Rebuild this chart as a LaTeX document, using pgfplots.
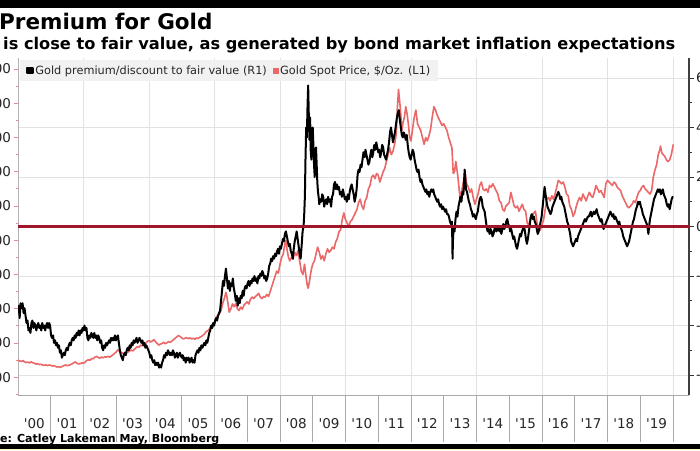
\documentclass[border=0pt]{standalone}
\usepackage{pgfplots}
\usepackage{pgfplotstable}
\pgfplotsset{compat=1.18}
\usepackage{fontspec}
\setmainfont{DejaVu Sans}
\definecolor{goldred}{RGB}{236,104,104}
\definecolor{zerored}{RGB}{158,22,40}
\definecolor{gridgray}{RGB}{226,226,226}
\definecolor{legbg}{RGB}{241,241,241}
\definecolor{tickgray}{RGB}{170,170,170}

\pgfplotstableread{
x y
2000.00 -35
2000.03 -32
2000.05 -37
2000.08 -31
2000.11 -33
2000.14 -31
2000.17 -35
2000.20 -33
2000.23 -36
2000.26 -39
2000.29 -38
2000.32 -42
2000.35 -41
2000.38 -43
2000.41 -39
2000.44 -38
2000.47 -41
2000.50 -39
2000.53 -40
2000.56 -42
2000.59 -40
2000.62 -39
2000.65 -41
2000.68 -40
2000.71 -42
2000.74 -39
2000.77 -41
2000.80 -40
2000.83 -42
2000.86 -40
2000.89 -39
2000.92 -41
2000.95 -39
2000.98 -40
2001.01 -44
2001.04 -45
2001.07 -44
2001.10 -47
2001.13 -46
2001.16 -48
2001.19 -47
2001.22 -49
2001.25 -48
2001.28 -51
2001.31 -50
2001.34 -53
2001.37 -52
2001.40 -51
2001.43 -52
2001.46 -50
2001.49 -49
2001.52 -50
2001.55 -48
2001.58 -47
2001.61 -48
2001.64 -46
2001.67 -45
2001.70 -46
2001.73 -44
2001.76 -45
2001.79 -43
2001.82 -44
2001.85 -42
2001.88 -44
2001.91 -42
2001.94 -43
2001.97 -41
2002.00 -42
2002.03 -40
2002.06 -42
2002.09 -41
2002.12 -45
2002.15 -46
2002.18 -44
2002.21 -45
2002.24 -43
2002.27 -44
2002.30 -45
2002.33 -43
2002.36 -45
2002.39 -44
2002.42 -46
2002.45 -44
2002.48 -45
2002.51 -47
2002.54 -46
2002.57 -49
2002.60 -50
2002.63 -48
2002.66 -49
2002.69 -47
2002.72 -48
2002.75 -47
2002.78 -46
2002.81 -47
2002.84 -45
2002.87 -46
2002.90 -45
2002.93 -46
2002.96 -44
2002.99 -46
2003.02 -45
2003.05 -44
2003.08 -47
2003.11 -50
2003.14 -52
2003.17 -53
2003.20 -54
2003.23 -52
2003.26 -51
2003.29 -52
2003.32 -50
2003.35 -49
2003.38 -50
2003.41 -48
2003.44 -49
2003.47 -47
2003.50 -48
2003.53 -46
2003.56 -47
2003.59 -46
2003.62 -45
2003.65 -47
2003.68 -46
2003.71 -45
2003.74 -46
2003.77 -47
2003.80 -46
2003.83 -48
2003.86 -47
2003.89 -49
2003.92 -48
2003.95 -49
2003.98 -50
2004.01 -51
2004.04 -53
2004.07 -52
2004.10 -54
2004.13 -55
2004.16 -54
2004.19 -56
2004.22 -55
2004.25 -56
2004.28 -55
2004.31 -57
2004.34 -56
2004.37 -57
2004.40 -55
2004.43 -54
2004.46 -52
2004.49 -53
2004.52 -51
2004.55 -52
2004.58 -50
2004.61 -51
2004.64 -52
2004.67 -51
2004.70 -52
2004.73 -50
2004.76 -51
2004.79 -53
2004.82 -52
2004.85 -51
2004.88 -53
2004.91 -52
2004.94 -51
2004.97 -52
2005.00 -53
2005.03 -52
2005.06 -54
2005.09 -53
2005.12 -55
2005.15 -53
2005.18 -54
2005.21 -53
2005.24 -55
2005.27 -54
2005.30 -53
2005.33 -55
2005.36 -54
2005.39 -55
2005.42 -52
2005.45 -51
2005.48 -50
2005.51 -51
2005.54 -49
2005.57 -50
2005.60 -48
2005.63 -49
2005.66 -48
2005.69 -47
2005.72 -48
2005.75 -46
2005.78 -47
2005.81 -45
2005.84 -43
2005.87 -42
2005.90 -40
2005.93 -41
2005.96 -39
2005.99 -40
2006.02 -38
2006.05 -37
2006.08 -38
2006.11 -36
2006.14 -35
2006.17 -34
2006.20 -30
2006.23 -26
2006.26 -22
2006.29 -24
2006.32 -20
2006.35 -17
2006.38 -21
2006.41 -25
2006.44 -22
2006.47 -26
2006.50 -23
2006.53 -24
2006.56 -21
2006.59 -25
2006.62 -27
2006.65 -30
2006.68 -28
2006.71 -32
2006.74 -29
2006.77 -31
2006.80 -28
2006.83 -29
2006.86 -26
2006.89 -28
2006.92 -25
2006.95 -24
2006.98 -25
2007.01 -23
2007.04 -22
2007.07 -24
2007.10 -22
2007.13 -23
2007.16 -21
2007.19 -22
2007.22 -20
2007.25 -22
2007.28 -21
2007.31 -23
2007.34 -20
2007.37 -21
2007.40 -19
2007.43 -20
2007.46 -18
2007.49 -19
2007.52 -21
2007.55 -20
2007.58 -22
2007.61 -21
2007.64 -19
2007.67 -16
2007.70 -15
2007.73 -13
2007.76 -14
2007.79 -12
2007.82 -13
2007.85 -11
2007.88 -12
2007.91 -10
2007.94 -9
2007.97 -11
2008.00 -8
2008.03 -9
2008.06 -7
2008.09 -5
2008.12 -6
2008.15 -3
2008.18 -2
2008.21 -4
2008.24 -6
2008.27 -8
2008.30 -7
2008.33 -10
2008.36 -11
2008.39 -13
2008.42 -9
2008.45 -6
2008.48 -4
2008.51 -2
2008.54 -5
2008.57 -8
2008.60 -11
2008.63 -13
2008.66 -8
2008.69 -2
2008.72 0
2008.74 5
2008.76 12
2008.78 28
2008.80 40
2008.82 36
2008.84 48
2008.86 57
2008.88 45
2008.90 35
2008.92 44
2008.94 30
2008.96 27
2008.98 35
2009.00 40
2009.02 33
2009.04 25
2009.06 20
2009.08 28
2009.10 32
2009.12 25
2009.14 18
2009.16 14
2009.18 12
2009.20 9
2009.23 11
2009.26 10
2009.29 13
2009.32 12
2009.35 8
2009.38 10
2009.41 11
2009.44 9
2009.47 12
2009.50 10
2009.53 11
2009.56 8
2009.59 12
2009.62 13
2009.65 17
2009.68 18
2009.71 15
2009.74 17
2009.77 15
2009.80 16
2009.83 13
2009.86 14
2009.89 12
2009.92 15
2009.95 13
2009.98 11
2010.01 12
2010.04 10
2010.07 13
2010.10 11
2010.13 14
2010.16 16
2010.19 17
2010.22 15
2010.25 13
2010.28 10
2010.31 12
2010.34 15
2010.37 21
2010.40 23
2010.43 22
2010.46 25
2010.49 24
2010.52 27
2010.55 30
2010.58 28
2010.61 31
2010.64 29
2010.67 27
2010.70 25
2010.73 26
2010.76 29
2010.79 31
2010.82 28
2010.85 30
2010.88 33
2010.91 31
2010.94 34
2010.97 32
2011.00 30
2011.03 31
2011.06 28
2011.09 30
2011.12 33
2011.15 32
2011.18 29
2011.21 28
2011.24 27
2011.27 29
2011.30 31
2011.33 34
2011.36 38
2011.39 40
2011.42 37
2011.45 34
2011.48 36
2011.51 38
2011.54 41
2011.57 44
2011.60 46
2011.63 47
2011.66 43
2011.69 40
2011.72 37
2011.75 36
2011.78 38
2011.81 37
2011.84 35
2011.87 37
2011.90 33
2011.93 30
2011.96 28
2011.99 27
2012.02 29
2012.05 31
2012.08 30
2012.11 27
2012.14 25
2012.17 23
2012.20 22
2012.23 23
2012.26 20
2012.29 18
2012.32 19
2012.35 17
2012.38 16
2012.41 15
2012.44 14
2012.47 15
2012.50 13
2012.53 14
2012.56 12
2012.59 14
2012.62 15
2012.65 14
2012.68 15
2012.71 13
2012.74 12
2012.77 11
2012.80 10
2012.83 11
2012.86 9
2012.89 8
2012.92 9
2012.95 7
2012.98 8
2013.01 7
2013.04 6
2013.07 7
2013.10 5
2013.13 5
2013.16 4
2013.19 2
2013.22 1
2013.25 2
2013.26 -4
2013.27 -13
2013.28 -6
2013.30 -1
2013.33 -2
2013.36 3
2013.39 6
2013.42 4
2013.45 8
2013.48 10
2013.51 12
2013.54 10
2013.57 14
2013.60 13
2013.62 18
2013.64 23
2013.66 19
2013.68 15
2013.71 14
2013.74 12
2013.77 10
2013.80 9
2013.83 7
2013.86 6
2013.89 4
2013.92 5
2013.95 4
2013.98 3
2014.01 5
2014.04 6
2014.07 9
2014.10 11
2014.13 12
2014.16 11
2014.19 8
2014.22 7
2014.25 6
2014.28 3
2014.31 0
2014.34 -2
2014.37 -1
2014.40 -3
2014.43 -1
2014.46 -2
2014.49 -4
2014.52 -3
2014.55 -1
2014.58 0
2014.61 -2
2014.64 -1
2014.67 0
2014.70 -2
2014.73 -1
2014.76 -3
2014.79 -1
2014.82 1
2014.85 -1
2014.88 0
2014.91 2
2014.94 3
2014.97 1
2015.00 0
2015.03 -2
2015.06 -1
2015.09 -3
2015.12 -5
2015.15 -4
2015.18 -6
2015.21 -8
2015.24 -9
2015.27 -7
2015.30 -5
2015.33 -3
2015.36 -4
2015.39 -2
2015.42 -1
2015.45 0
2015.48 -2
2015.51 -5
2015.54 -7
2015.57 -5
2015.60 -2
2015.63 1
2015.66 4
2015.69 5
2015.72 3
2015.75 4
2015.78 2
2015.81 1
2015.84 -1
2015.87 -3
2015.90 -2
2015.93 0
2015.96 2
2015.99 4
2016.02 8
2016.05 12
2016.08 16
2016.11 13
2016.14 10
2016.17 8
2016.20 7
2016.23 6
2016.26 5
2016.29 6
2016.32 8
2016.35 9
2016.38 10
2016.41 11
2016.44 12
2016.47 13
2016.50 14
2016.53 13
2016.56 11
2016.59 12
2016.62 10
2016.65 9
2016.68 8
2016.71 6
2016.74 4
2016.77 2
2016.80 1
2016.83 -1
2016.86 -3
2016.89 -6
2016.92 -7
2016.95 -8
2016.98 -7
2017.01 -6
2017.04 -5
2017.07 -6
2017.10 -4
2017.13 -3
2017.16 -2
2017.19 -1
2017.22 0
2017.25 1
2017.28 2
2017.31 3
2017.34 2
2017.37 3
2017.40 4
2017.43 4
2017.46 5
2017.49 6
2017.52 4
2017.55 5
2017.58 6
2017.61 5
2017.64 6
2017.67 7
2017.70 5
2017.73 4
2017.76 3
2017.79 2
2017.82 3
2017.85 1
2017.88 -1
2017.91 0
2017.94 1
2017.97 2
2018.00 3
2018.03 4
2018.06 5
2018.09 6
2018.12 5
2018.15 4
2018.18 5
2018.21 3
2018.24 4
2018.27 3
2018.30 2
2018.33 1
2018.36 2
2018.39 0
2018.42 -1
2018.45 -2
2018.48 -4
2018.51 -5
2018.54 -6
2018.57 -7
2018.60 -8
2018.63 -7
2018.66 -6
2018.69 -4
2018.72 -2
2018.75 0
2018.78 2
2018.81 3
2018.84 5
2018.87 7
2018.90 8
2018.93 10
2018.96 9
2018.99 10
2019.02 8
2019.05 7
2019.08 5
2019.11 4
2019.14 3
2019.17 2
2019.20 1
2019.23 -1
2019.25 -3
2019.27 0
2019.30 3
2019.33 5
2019.36 7
2019.39 9
2019.42 11
2019.45 12
2019.48 13
2019.51 14
2019.54 15
2019.57 14
2019.60 15
2019.63 13
2019.66 14
2019.69 15
2019.72 13
2019.75 12
2019.78 11
2019.81 9
2019.84 8
2019.87 9
2019.90 7
2019.93 9
2019.96 11
2019.99 12
2020.01 12
}\premium

\pgfplotstableread{
x y
2000.00 300
2000.05 296
2000.10 292
2000.15 298
2000.20 290
2000.25 286
2000.30 289
2000.35 284
2000.40 290
2000.45 285
2000.50 282
2000.55 277
2000.60 280
2000.65 274
2000.70 276
2000.75 272
2000.80 270
2000.85 273
2000.90 268
2000.95 272
2001.00 270
2001.05 266
2001.10 268
2001.15 263
2001.20 260
2001.25 262
2001.30 258
2001.35 264
2001.40 268
2001.45 272
2001.50 268
2001.55 270
2001.60 274
2001.65 278
2001.70 285
2001.75 290
2001.80 282
2001.85 278
2001.90 280
2001.95 284
2002.00 282
2002.05 288
2002.10 298
2002.15 302
2002.20 300
2002.25 310
2002.30 308
2002.35 318
2002.40 322
2002.45 316
2002.50 312
2002.55 318
2002.60 314
2002.65 320
2002.70 318
2002.75 322
2002.80 318
2002.85 324
2002.90 332
2002.95 340
2003.00 348
2003.05 360
2003.10 352
2003.15 346
2003.20 340
2003.25 334
2003.30 342
2003.35 346
2003.40 352
2003.45 360
2003.50 354
2003.55 362
2003.60 372
2003.65 380
2003.70 376
2003.75 388
2003.80 384
2003.85 392
2003.90 398
2003.95 410
2004.00 414
2004.05 406
2004.10 412
2004.15 420
2004.20 408
2004.25 398
2004.30 388
2004.35 394
2004.40 398
2004.45 404
2004.50 396
2004.55 402
2004.60 408
2004.65 404
2004.70 412
2004.75 420
2004.80 428
2004.85 436
2004.90 444
2004.95 438
2005.00 430
2005.05 424
2005.10 428
2005.15 432
2005.20 426
2005.25 430
2005.30 424
2005.35 428
2005.40 422
2005.45 430
2005.50 426
2005.55 434
2005.60 438
2005.65 446
2005.70 454
2005.75 468
2005.80 472
2005.85 484
2005.90 500
2005.95 512
2006.00 522
2006.05 548
2006.10 562
2006.15 570
2006.20 590
2006.25 630
2006.30 660
2006.35 695
2006.38 670
2006.42 620
2006.45 580
2006.50 600
2006.55 628
2006.60 612
2006.65 632
2006.70 600
2006.75 590
2006.80 610
2006.85 598
2006.90 622
2006.95 632
2007.00 640
2007.05 628
2007.10 656
2007.15 668
2007.20 660
2007.25 672
2007.30 680
2007.35 690
2007.40 668
2007.45 660
2007.50 672
2007.55 668
2007.60 684
2007.65 672
2007.70 700
2007.75 730
2007.80 760
2007.85 790
2007.90 820
2007.95 808
2008.00 860
2008.05 900
2008.10 920
2008.15 980
2008.18 1000
2008.22 940
2008.26 900
2008.30 880
2008.35 900
2008.40 890
2008.45 930
2008.50 910
2008.55 940
2008.60 880
2008.65 820
2008.70 800
2008.75 860
2008.80 780
2008.83 740
2008.86 720
2008.90 760
2008.93 800
2008.97 840
2009.00 860
2009.05 880
2009.10 920
2009.15 960
2009.20 930
2009.25 890
2009.30 910
2009.35 880
2009.40 920
2009.45 950
2009.50 930
2009.55 940
2009.60 960
2009.65 950
2009.70 990
2009.75 1010
2009.80 1050
2009.85 1060
2009.90 1120
2009.95 1160
2010.00 1120
2010.05 1100
2010.10 1080
2010.15 1110
2010.20 1120
2010.25 1140
2010.30 1160
2010.35 1180
2010.40 1220
2010.45 1240
2010.50 1200
2010.55 1180
2010.60 1230
2010.65 1250
2010.70 1300
2010.75 1320
2010.80 1370
2010.85 1380
2010.90 1360
2010.95 1390
2011.00 1380
2011.05 1340
2011.10 1370
2011.15 1400
2011.20 1420
2011.25 1460
2011.30 1500
2011.35 1540
2011.40 1500
2011.45 1520
2011.50 1560
2011.55 1620
2011.58 1760
2011.62 1880
2011.65 1820
2011.68 1760
2011.72 1640
2011.75 1680
2011.80 1720
2011.84 1780
2011.88 1740
2011.92 1680
2011.96 1600
2012.00 1580
2012.05 1650
2012.10 1720
2012.15 1760
2012.20 1680
2012.25 1660
2012.30 1640
2012.35 1600
2012.40 1560
2012.45 1600
2012.50 1580
2012.55 1610
2012.60 1650
2012.65 1720
2012.70 1780
2012.75 1760
2012.80 1730
2012.85 1710
2012.90 1690
2012.95 1670
2013.00 1680
2013.05 1660
2013.10 1640
2013.15 1600
2013.20 1570
2013.25 1540
2013.29 1390
2013.33 1400
2013.37 1460
2013.42 1390
2013.46 1320
2013.50 1240
2013.55 1290
2013.60 1340
2013.65 1400
2013.70 1330
2013.75 1310
2013.80 1280
2013.85 1300
2013.90 1250
2013.95 1210
2014.00 1240
2014.05 1270
2014.10 1320
2014.15 1340
2014.20 1300
2014.25 1290
2014.30 1300
2014.35 1280
2014.40 1320
2014.45 1310
2014.50 1330
2014.55 1310
2014.60 1290
2014.65 1270
2014.70 1230
2014.75 1220
2014.80 1180
2014.85 1170
2014.90 1200
2014.95 1210
2015.00 1220
2015.05 1280
2015.10 1240
2015.15 1200
2015.20 1190
2015.25 1200
2015.30 1170
2015.35 1190
2015.40 1210
2015.45 1180
2015.50 1170
2015.55 1100
2015.60 1090
2015.65 1130
2015.70 1140
2015.75 1160
2015.80 1170
2015.85 1100
2015.90 1070
2015.95 1060
2016.00 1090
2016.05 1120
2016.10 1180
2016.15 1240
2016.20 1250
2016.25 1230
2016.30 1260
2016.35 1240
2016.40 1270
2016.45 1310
2016.50 1350
2016.55 1340
2016.60 1330
2016.65 1340
2016.70 1310
2016.75 1270
2016.80 1260
2016.85 1200
2016.90 1180
2016.95 1140
2017.00 1160
2017.05 1200
2017.10 1230
2017.15 1250
2017.20 1230
2017.25 1270
2017.30 1250
2017.35 1230
2017.40 1260
2017.45 1280
2017.50 1260
2017.55 1250
2017.60 1280
2017.65 1320
2017.70 1300
2017.75 1280
2017.80 1290
2017.85 1270
2017.90 1250
2017.95 1330
2018.00 1350
2018.05 1340
2018.10 1330
2018.15 1320
2018.20 1340
2018.25 1330
2018.30 1310
2018.35 1300
2018.40 1290
2018.45 1260
2018.50 1240
2018.55 1220
2018.60 1200
2018.65 1190
2018.70 1200
2018.75 1210
2018.80 1230
2018.85 1220
2018.90 1250
2018.95 1280
2019.00 1290
2019.05 1310
2019.10 1320
2019.15 1300
2019.20 1290
2019.25 1280
2019.30 1270
2019.35 1290
2019.40 1370
2019.45 1410
2019.50 1440
2019.55 1500
2019.60 1530
2019.62 1550
2019.66 1510
2019.70 1500
2019.75 1490
2019.80 1470
2019.85 1460
2019.90 1470
2019.95 1500
2020.01 1560
}\goldprice

\begin{document}
\begin{tikzpicture}[x=1pt,y=1pt]
\useasboundingbox (0,0) rectangle (700,450);
\clip (0,0) rectangle (700,450);
\fill[white] (0,0) rectangle (700,450);

% grid, x ticks and labels
\begin{axis}[
  at={(18pt,55pt)}, anchor=south west, scale only axis,
  width=671pt, height=337pt,
  xmin=2000, xmax=2020.49, ymin=-68.08, ymax=68.08,
  axis x line*=bottom, axis y line*=left,
  x axis line style={-, draw=tickgray, line width=0.8pt},
  y axis line style={draw=none},
  xtick={2000.5,2001.5,...,2019.5},
  xticklabels={\textquotesingle00,\textquotesingle01,\textquotesingle02,\textquotesingle03,\textquotesingle04,\textquotesingle05,\textquotesingle06,\textquotesingle07,\textquotesingle08,\textquotesingle09,\textquotesingle10,\textquotesingle11,\textquotesingle12,\textquotesingle13,\textquotesingle14,\textquotesingle15,\textquotesingle16,\textquotesingle17,\textquotesingle18,\textquotesingle19},
  major tick length=0pt,
  minor xtick={2001,2002,...,2020},
  minor tick length=47pt,
  tick align=outside,
  every minor x tick/.append style={draw=tickgray, line width=0.8pt},
  xticklabel style={font=\fontsize{13.5}{15}\selectfont, text=black!85, yshift=-20pt},
  extra x ticks={2002,2004,...,2020},
  extra x tick labels={},
  extra x tick style={grid=major, major tick length=0pt},
  ytick={-60,-40,...,60},
  yticklabels={},
  ymajorgrids=true,
  major grid style={draw=gridgray, line width=0.7pt},
]
\end{axis}

% left axis: gold price
\begin{axis}[
  at={(18pt,55pt)}, anchor=south west, scale only axis,
  width=671pt, height=337pt,
  xmin=2000, xmax=2020.49, ymin=96.7, ymax=2064.2,
  axis y line*=left, axis x line*=bottom,
  x axis line style={draw=none}, xtick=\empty,
  y axis line style={-, draw=black!30, line width=0.8pt},
  ytick={200,400,...,2000},
  minor ytick={100,300,...,1900},
  tick align=outside,
  major tick length=4.5pt, minor tick length=2.5pt,
  every tick/.append style={draw=goldred!80, line width=0.9pt},
  /pgf/number format/1000 sep={},
  /pgf/number format/assume math mode=true,
  yticklabel style={font=\fontsize{13.5}{15}\selectfont, text=black!85, anchor=east, xshift=1pt},
]
\addplot[goldred, line width=1.6pt, line join=round] table[x=x,y=y] {\goldprice};
\end{axis}

% right axis: premium
\begin{axis}[
  at={(18pt,55pt)}, anchor=south west, scale only axis,
  width=671pt, height=337pt,
  xmin=2000, xmax=2020.49, ymin=-68.08, ymax=68.08,
  axis y line*=right, axis x line*=bottom,
  x axis line style={draw=none}, xtick=\empty,
  y axis line style={-, draw=black!75, line width=1.2pt},
  ytick={-60,-40,...,60},
  minor ytick={-50,-30,...,50},
  tick align=outside,
  major tick length=4.5pt, minor tick length=2.5pt,
  every tick/.append style={draw=black!80, line width=0.9pt},
  /pgf/number format/assume math mode=true,
  yticklabel style={font=\fontsize{13.5}{15}\selectfont, text=black!85, anchor=west, xshift=-1pt},
  legend style={at={(0.003,0.994)}, anchor=north west, draw=none, fill=legbg,
    font=\fontsize{11.3}{13}\selectfont, text=black!85, legend columns=2,
    inner xsep=6pt, inner ysep=3.5pt,
    nodes={inner sep=1.8pt},
    /tikz/every even column/.append style={column sep=4pt}},
  legend image code/.code={\fill[#1] (0pt,-2.7pt) rectangle (5.4pt,2.7pt);},
]
\addplot[black, line width=2pt, line join=round] table[x=x,y=y] {\premium};
\addlegendentry{Gold premium/discount to fair value (R1)}
\addlegendimage{goldred, fill=goldred}
\addlegendentry{Gold Spot Price, \$/Oz. (L1)}
\addplot[zerored, line width=3pt, forget plot] coordinates {(2000,0) (2020.49,0)};
\end{axis}

% titles and bands
\fill[black] (0,442) rectangle (700,450);
\node[anchor=base west, inner sep=0, font=\bfseries\fontsize{21.5}{24}\selectfont] at (-1,420) {Premium for Gold};
\node[anchor=base west, inner sep=0, font=\bfseries\fontsize{16.2}{18}\selectfont] at (3,400) {is close to fair value, as generated by bond market inflation expectations};
\node[anchor=base west, inner sep=0, font=\bfseries\fontsize{11}{13}\selectfont] at (0,8) {e: Catley Lakeman May, Bloomberg};
\fill[black] (0,1.5) rectangle (700,6.5);
\fill[black!10!yellow!25!white] (0,0) rectangle (700,1.5);
\end{tikzpicture}
\end{document}
